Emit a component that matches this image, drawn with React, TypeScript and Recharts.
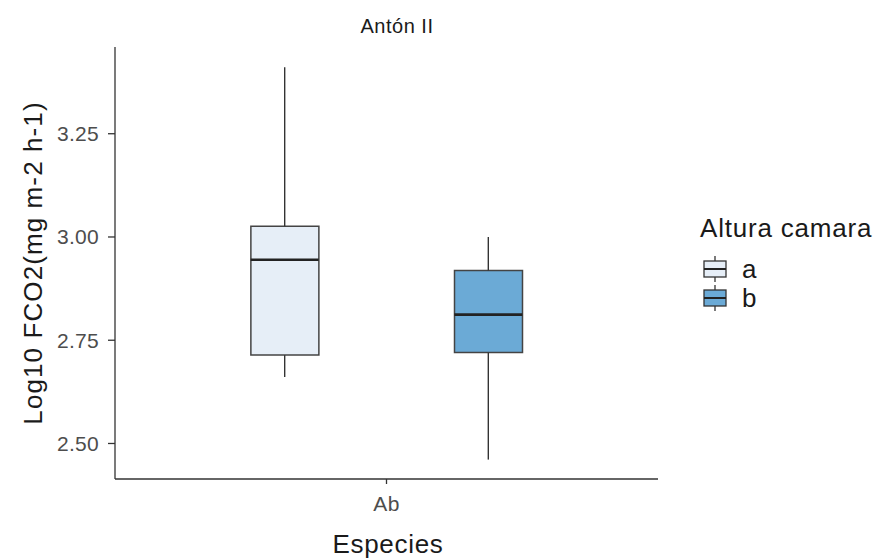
import {
  ComposedChart,
  Bar,
  Cell,
  Scatter,
  ErrorBar,
  XAxis,
  YAxis,
} from "recharts";

// one species on the x axis, two chamber heights dodged around it
const categories = ["Ab"];
const groups = ["a", "b"];
const groupX = [0.775, 1.225];

// box stats per group (log10 FCO2)
const lowWhisker = [2.661, 2.461];
const lowerQ = [2.714, 2.72];
const medians = [2.945, 2.812];
const upperQ = [3.026, 2.919];
const highWhisker = [3.411, 3.0];

const yTicks = [2.5, 2.75, 3.0, 3.25];
const FILLS = ["#e6eef7", "#6baad6"];

const FONT = '"Liberation Sans", Arial, Helvetica, sans-serif';

const rows = groups.map((g, i) => ({
  group: g,
  x: groupX[i],
  box: [lowerQ[i], upperQ[i]],
  q1: lowerQ[i],
  q3: upperQ[i],
  median: medians[i],
  upErr: [0, highWhisker[i] - upperQ[i]],
  lowErr: [lowerQ[i] - lowWhisker[i], 0],
}));

const BOX_W = 68;

function MedianLine(props: any) {
  const { cx, cy } = props;
  if (cx == null || cy == null) return <g />;
  return (
    <line
      x1={cx - BOX_W / 2}
      x2={cx + BOX_W / 2}
      y1={cy}
      y2={cy}
      stroke="#222"
      strokeWidth={2.6}
    />
  );
}

function LegendKey({ fill }: { fill: string }) {
  return (
    <svg width={24} height={26} style={{ display: "block" }}>
      <line x1={12} x2={12} y1={0} y2={26} stroke="#333" strokeWidth={1.3} />
      <rect x={1} y={5} width={22} height={16} fill={fill} stroke="#333" strokeWidth={1.3} />
      <line x1={1} x2={23} y1={13} y2={13} stroke="#222" strokeWidth={2} />
    </svg>
  );
}

const tickStyle = { fill: "#4d4d4d", fontSize: 21, fontFamily: FONT, letterSpacing: 0.3 };

export default function App() {
  return (
    <div
      style={{
        position: "absolute",
        left: 0,
        top: 0,
        width: 878,
        height: 560,
        background: "#fff",
        fontFamily: FONT,
      }}
    >
      <ComposedChart
        width={878}
        height={560}
        data={rows}
        margin={{ top: 47, right: 220, bottom: 51, left: 55 }}
      >
        <XAxis
          type="number"
          dataKey="x"
          domain={[0.4, 1.6]}
          ticks={[1]}
          tickFormatter={() => categories[0]}
          height={30}
          tickSize={5}
          tickMargin={12}
          axisLine={{ stroke: "#333", strokeWidth: 1.3 }}
          tickLine={{ stroke: "#333", strokeWidth: 1.3 }}
          tick={tickStyle}
          allowDataOverflow
        />
        <YAxis
          type="number"
          domain={[2.414, 3.46]}
          ticks={yTicks}
          tickFormatter={(v: number) => v.toFixed(2)}
          width={60}
          tickSize={7}
          tickMargin={9}
          axisLine={{ stroke: "#333", strokeWidth: 1.3 }}
          tickLine={{ stroke: "#333", strokeWidth: 1.3 }}
          tick={tickStyle}
          allowDataOverflow
        />
        <Scatter
          dataKey="q3"
          isAnimationActive={false}
          shape={() => <g />}
          legendType="none"
        >
          <ErrorBar dataKey="upErr" direction="y" width={0} stroke="#333" strokeWidth={1.4} />
        </Scatter>
        <Scatter
          dataKey="q1"
          isAnimationActive={false}
          shape={() => <g />}
          legendType="none"
        >
          <ErrorBar dataKey="lowErr" direction="y" width={0} stroke="#333" strokeWidth={1.4} />
        </Scatter>
        <Bar
          dataKey="box"
          barSize={BOX_W}
          stroke="#444"
          strokeWidth={1.5}
          isAnimationActive={false}
        >
          {rows.map((r, i) => (
            <Cell key={r.group} fill={FILLS[i]} />
          ))}
        </Bar>
        <Scatter
          dataKey="median"
          isAnimationActive={false}
          shape={MedianLine}
          legendType="none"
        />
      </ComposedChart>

      {/* facet strip title */}
      <div
        style={{
          position: "absolute",
          left: 397,
          top: 15,
          transform: "translateX(-50%)",
          fontSize: 20,
          letterSpacing: 0.5,
          lineHeight: 1.117,
          color: "#1a1a1a",
          whiteSpace: "nowrap",
        }}
      >
        Antón II
      </div>

      {/* axis titles */}
      <div
        style={{
          position: "absolute",
          left: 388,
          top: 530,
          transform: "translateX(-50%)",
          fontSize: 26,
          letterSpacing: 0.7,
          lineHeight: 1.117,
          color: "#1a1a1a",
          whiteSpace: "nowrap",
        }}
      >
        Especies
      </div>
      <div
        style={{
          position: "absolute",
          left: 34,
          top: 263,
          transform: "translate(-50%, -50%) rotate(-90deg)",
          fontSize: 26,
          letterSpacing: 1.1,
          lineHeight: 1.117,
          color: "#1a1a1a",
          whiteSpace: "nowrap",
        }}
      >
        Log10 FCO2(mg m-2 h-1)
      </div>

      {/* legend */}
      <div style={{ position: "absolute", left: 700, top: 214, color: "#1a1a1a" }}>
        <div style={{ fontSize: 26, letterSpacing: 0.8, lineHeight: 1.117, marginBottom: 11 }}>
          Altura camara
        </div>
        {groups.map((g, i) => (
          <div
            key={g}
            style={{ display: "flex", alignItems: "center", height: 29, gap: 15, paddingLeft: 3 }}
          >
            <LegendKey fill={FILLS[i]} />
            <span style={{ fontSize: 26, lineHeight: 1 }}>{g}</span>
          </div>
        ))}
      </div>
    </div>
  );
}
